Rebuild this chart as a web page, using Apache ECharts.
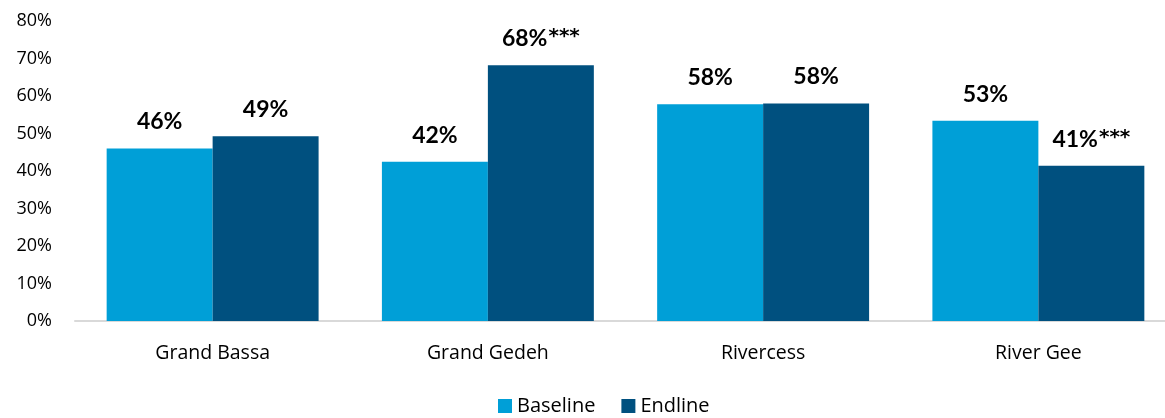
<!DOCTYPE html>
<html>
<head>
<meta charset="utf-8">
<script src="https://cdn.jsdelivr.net/npm/echarts@6/dist/echarts.min.js"></script>
<style>
html,body{margin:0;padding:0;background:#fff;}
#chart{width:1165px;height:418px;}
</style>
</head>
<body>
<div id="chart"></div>
<script>
const categories = ['Grand Bassa', 'Grand Gedeh', 'Rivercess', 'River Gee'];
const baseline = [46.0, 42.5, 57.8, 53.4];
const endline = [49.3, 68.2, 58.0, 41.4];
const baselineLabels = ['46%', '42%', '58%', '53%'];
const endlineLabels = ['49%', '68%', '58%', '41%'];
const endlineStars = ['', '***', '', '***'];
const yTicks = [0, 10, 20, 30, 40, 50, 60, 70, 80];

const FONT = '"Open Sans", sans-serif';
const LFONT = 'Lato, "Open Sans", sans-serif';
const chart = echarts.init(document.getElementById('chart'), null, {renderer: 'canvas'});
const labelStyle = {
  show: true, position: 'top', distance: 15,
  fontFamily: LFONT, fontWeight: 'bold', fontSize: 23, color: '#000',
  rich: {
    s: {fontFamily: '"DejaVu Sans", sans-serif', fontWeight: 'bold', fontSize: 20, color: '#000', verticalAlign: 'top', padding: [0, 0, 0, 1]}
  }
};
chart.setOption({
  animation: false,
  textStyle: {fontFamily: FONT},
  grid: {left: 75, top: 21, width: 1101, height: 300, containLabel: false, outerBoundsMode: 'none'},
  legend: {
    data: ['Baseline', 'Endline'], bottom: -3, left: 493,
    itemWidth: 14, itemHeight: 14, itemGap: 26, icon: 'rect',
    textStyle: {fontFamily: FONT, fontSize: 20, color: '#000'}
  },
  xAxis: {
    type: 'category', data: categories,
    axisLine: {lineStyle: {color: '#d9d9d9', width: 2}},
    axisTick: {show: false},
    axisLabel: {fontFamily: FONT, fontSize: 19.5, color: '#000', margin: 22}
  },
  yAxis: {
    type: 'value', min: yTicks[0], max: yTicks[yTicks.length - 1], interval: 10,
    axisLine: {show: false}, axisTick: {show: false}, splitLine: {show: false},
    axisLabel: {fontFamily: FONT, fontSize: 18, color: '#000', margin: 23, formatter: v => v + '%'}
  },
  series: [
    {
      name: 'Baseline', type: 'bar', data: baseline, barGap: '0%', barCategoryGap: '23%',
      itemStyle: {color: '#009FD7'},
      label: Object.assign({}, labelStyle, {formatter: p => baselineLabels[p.dataIndex]})
    },
    {
      name: 'Endline', type: 'bar', data: endline,
      itemStyle: {color: '#00507F'},
      label: Object.assign({}, labelStyle, {
        formatter: p => endlineLabels[p.dataIndex] + (endlineStars[p.dataIndex] ? '{s|' + endlineStars[p.dataIndex] + '}' : '')
      })
    }
  ]
});
</script>
</body>
</html>
